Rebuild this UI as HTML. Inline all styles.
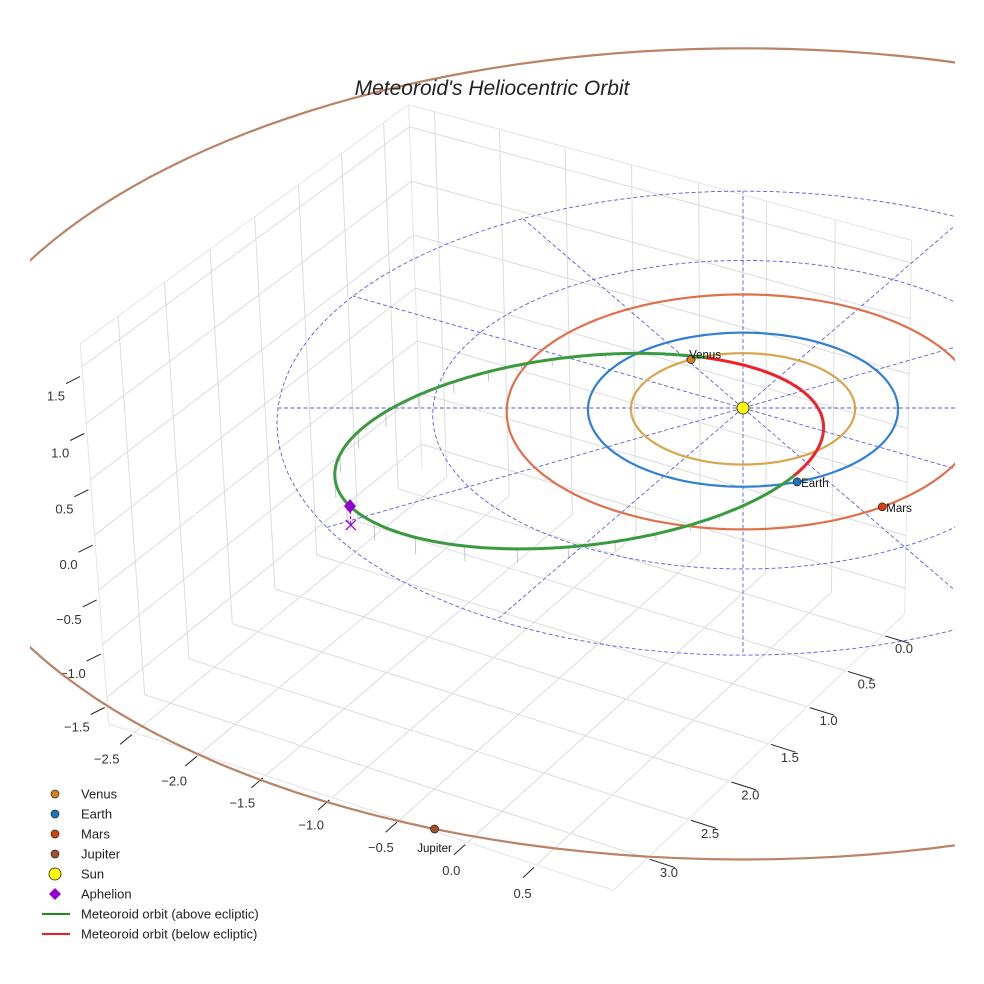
<!DOCTYPE html>
<html><head><meta charset="utf-8">
<style>
html,body{margin:0;padding:0;background:#fff;}
svg{display:block;font-family:"Liberation Sans",sans-serif;}
</style></head>
<body>
<svg id="chart" width="984" height="984" viewBox="0 0 984 984" xmlns="http://www.w3.org/2000/svg">
<defs><clipPath id="clipArea"><rect x="30" y="0" width="925" height="984"/></clipPath></defs>
<rect x="0" y="0" width="984" height="984" fill="#fff"/>
<g id="grid"></g>
<g id="axes"></g>
<g id="plot" clip-path="url(#clipArea)"></g>
<text x="492" y="95" text-anchor="middle" font-size="21" font-style="italic" fill="#222">Meteoroid's Heliocentric Orbit</text>
<g id="legend"></g>
</svg>
<script>
// ---- data ----
const xTicks = [-2.5, -2.0, -1.5, -1.0, -0.5, 0.0, 0.5];
const yTicks = [0.0, 0.5, 1.0, 1.5, 2.0, 2.5, 3.0];
const zTicks = [-1.5, -1.0, -0.5, 0.0, 0.5, 1.0, 1.5];
const xLim = [-2.7, 1.05];
const yLim = [-0.3, 3.4];
const zLim = [-1.75, 1.7];
const planetNames = ["Venus", "Earth", "Mars", "Jupiter"];
const planetRadius = [0.723, 1.0, 1.524, 5.2];
const planetAngleDeg = [212, 40, 25, 80];
const gridRadii = [1, 2, 3];
const gridSpokesDeg = [0, 30, 60, 90, 120, 150, 180, 210, 240, 270, 300, 330];
// meteoroid orbital elements: semi-latus rectum, eccentricity, perihelion longitude, inclination, node
const orbitP = [0.80];
const orbitE = [0.72];
const orbitPeriDeg = [-61];
const orbitIncDeg = [3.5];
const orbitNodeDeg = [40];

// ---- projection ----
const CX = 743, CY = 408, A = 155, B = 77, Z = 108, D = 40;
const c30 = Math.cos(Math.PI/6), s30 = Math.sin(Math.PI/6);
function proj(x, y, z) {
  const hx = x*c30 - y*s30;
  const dv = x*s30 + y*c30;
  const X0 = A*hx, Y0 = B*dv - Z*z;
  const dn = dv*0.87 + z*0.49;
  const f = D/(D - dn);
  return [CX + f*X0, CY + f*Y0];
}
const NS = "http://www.w3.org/2000/svg";
function mk(parent, tag, attrs) {
  const el = document.createElementNS(NS, tag);
  for (const k in attrs) el.setAttribute(k, attrs[k]);
  parent.appendChild(el);
  return el;
}
function pathFrom(pts) {
  return pts.map((p, i) => (i ? "L" : "M") + p[0].toFixed(1) + " " + p[1].toFixed(1)).join(" ");
}
function circlePts(r, z) {
  const pts = [];
  for (let a = 0; a <= 360; a += 2) { const t = a*Math.PI/180; pts.push(proj(r*Math.cos(t), r*Math.sin(t), z)); }
  return pts;
}
const grid = document.getElementById("grid");
const axes = document.getElementById("axes");
const plot = document.getElementById("plot");
const legend = document.getElementById("legend");
const GC = "#dcdcdc";
function seg(parent, p, q, color, w, name) {
  const l = mk(parent, "line", {x1: p[0], y1: p[1], x2: q[0], y2: q[1], stroke: color, "stroke-width": w});
  
  
  return l;
}
// floor grid
xTicks.forEach(v => seg(grid, proj(v, yLim[0], zLim[0]), proj(v, yLim[1], zLim[0]), GC, 1, "floor-grid-x"));
yTicks.forEach(v => seg(grid, proj(xLim[0], v, zLim[0]), proj(xLim[1], v, zLim[0]), GC, 1, "floor-grid-y"));
// left wall (x = xmin)
yTicks.forEach(v => seg(grid, proj(xLim[0], v, zLim[0]), proj(xLim[0], v, zLim[1]), GC, 1, "left-wall-grid-y"));
zTicks.forEach(v => seg(grid, proj(xLim[0], yLim[0], v), proj(xLim[0], yLim[1], v), GC, 1, "left-wall-grid-z"));
// back wall (y = ymin)
xTicks.forEach(v => seg(grid, proj(v, yLim[0], zLim[0]), proj(v, yLim[0], zLim[1]), GC, 1, "back-wall-grid-x"));
zTicks.forEach(v => seg(grid, proj(xLim[0], yLim[0], v), proj(xLim[1], yLim[0], v), GC, 1, "back-wall-grid-z"));
// pane edges
const EC = "#e4e4e4";
[[[xLim[0],yLim[1],zLim[0]],[xLim[0],yLim[1],zLim[1]]],[[xLim[0],yLim[0],zLim[0]],[xLim[0],yLim[0],zLim[1]]],
 [[xLim[1],yLim[0],zLim[0]],[xLim[1],yLim[0],zLim[1]]],[[xLim[0],yLim[1],zLim[1]],[xLim[0],yLim[0],zLim[1]]],
 [[xLim[0],yLim[0],zLim[1]],[xLim[1],yLim[0],zLim[1]]],[[xLim[0],yLim[1],zLim[0]],[xLim[1],yLim[1],zLim[0]]],
 [[xLim[1],yLim[1],zLim[0]],[xLim[1],yLim[0],zLim[0]]]].forEach(e => seg(grid, proj(...e[0]), proj(...e[1]), EC, 1, "pane-edge"));
// ticks
xTicks.forEach(v => {
  seg(axes, proj(v, yLim[1]+0.03, zLim[0]), proj(v, yLim[1]+0.16, zLim[0]), "#222", 1, "x-tick");
  const p = proj(v, yLim[1]+0.35, zLim[0]);
  const t = mk(axes, "text", {x: p[0]+4 + (v+2.5)*4, y: p[1]+5, "text-anchor": "middle", "font-size": 13, fill: "#333"});
  
  
  t.textContent = v.toFixed(1).replace("-", "\u2212");
});
yTicks.forEach(v => {
  seg(axes, proj(xLim[1]+0.02, v, zLim[0]), proj(xLim[1]+0.2, v, zLim[0]), "#222", 1, "y-tick");
  const p = proj(xLim[1]+0.1, v, zLim[0]);
  const t = mk(axes, "text", {x: p[0]+8, y: p[1]+14, "text-anchor": "middle", "font-size": 13, fill: "#333"});
  
  
  t.textContent = v.toFixed(1).replace("-", "\u2212");
});
zTicks.forEach(v => {
  const p = proj(xLim[0], yLim[1], v);
  seg(axes, [p[0]-2, p[1]+10], [p[0]-16, p[1]+17], "#222", 1, "z-tick");
  const t = mk(axes, "text", {x: p[0]-17, y: p[1]+34, "text-anchor": "end", "font-size": 13, fill: "#333"});
  
  
  t.textContent = v.toFixed(1).replace("-", "\u2212");
});
// dashed polar grid on ecliptic
gridRadii.forEach(r => {
  const el = mk(plot, "path", {d: pathFrom(circlePts(r, 0)), fill: "none", stroke: "#5a5ae6", "stroke-width": 0.9, "stroke-dasharray": "4,2.5"});
  
  
});
gridSpokesDeg.forEach(a => {
  const t = a*Math.PI/180, R = gridRadii[gridRadii.length-1];
  const el = mk(plot, "path", {d: pathFrom([proj(0,0,0), proj(R*Math.cos(t), R*Math.sin(t), 0)]), fill: "none", stroke: "#5a5ae6", "stroke-width": 0.9, "stroke-dasharray": "4,2.5"});
  
  
});
// planet orbits
const orbitColors = ["#d9a54a", "#2f7fd4", "#e0704c", "#b98366"];
const dotColors = ["#d9801e", "#1f77b4", "#d5400f", "#a0522d"];
planetNames.forEach((n, i) => {
  const el = mk(plot, "path", {d: pathFrom(circlePts(planetRadius[i], 0)), fill: "none", stroke: orbitColors[i], "stroke-width": 2.2});
  
  
});
// meteoroid orbit
const p0 = orbitP[0], e0 = orbitE[0], wp = orbitPeriDeg[0]*Math.PI/180, inc = orbitIncDeg[0]*Math.PI/180, om = orbitNodeDeg[0]*Math.PI/180;
function orbitPt(deg) {
  const t = deg*Math.PI/180;
  const r = p0/(1 + e0*Math.cos(t - wp));
  return [r*Math.cos(t), r*Math.sin(t), r*Math.sin(inc)*Math.sin(t - om)];
}
// stems
for (let d = 0; d < 360; d += 6) {
  const q = orbitPt(d);
  seg(plot, proj(q[0], q[1], q[2]), proj(q[0], q[1], 0), "#b8b8b8", 0.8, "orbit-stem");
}
let cur = null, segs = [];
for (let d = 0; d <= 360; d += 0.5) {
  const q = orbitPt(d); const above = q[2] >= 0;
  if (!cur || cur.above !== above) { const prev = cur ? cur.pts[cur.pts.length-1] : null; cur = {above, pts: prev ? [prev] : []}; segs.push(cur); }
  cur.pts.push(proj(q[0], q[1], q[2]));
}
segs.forEach(s => {
  const el = mk(plot, "path", {d: pathFrom(s.pts), fill: "none", stroke: s.above ? "#3a9a3e" : "#ee2228", "stroke-width": 3, "stroke-linejoin": "round"});
  
  
});
// aphelion
const aph = orbitPt(orbitPeriDeg[0] + 180);
const pa = proj(aph[0], aph[1], aph[2]), pb = proj(aph[0], aph[1], 0);
seg(plot, pa, pb, "#9400d3", 1.2, "aphelion-drop-line").setAttribute("stroke-dasharray", "3,2");
const dm = mk(plot, "path", {d: `M${pa[0]} ${pa[1]-7}L${pa[0]+6} ${pa[1]}L${pa[0]} ${pa[1]+7}L${pa[0]-6} ${pa[1]}Z`, fill: "#9400d3"});


const xm = mk(plot, "path", {d: `M${pb[0]-5} ${pb[1]-5}L${pb[0]+5} ${pb[1]+5}M${pb[0]+5} ${pb[1]-5}L${pb[0]-5} ${pb[1]+5}`, stroke: "#9400d3", "stroke-width": 1.3});


// sun
const ps = proj(0,0,0);
const sun = mk(plot, "circle", {cx: ps[0], cy: ps[1], r: 6, fill: "#ffff00", stroke: "#222", "stroke-width": 0.8});


// planets
planetNames.forEach((n, i) => {
  const t = planetAngleDeg[i]*Math.PI/180;
  const p = proj(planetRadius[i]*Math.cos(t), planetRadius[i]*Math.sin(t), 0);
  const c = mk(plot, "circle", {cx: p[0], cy: p[1], r: 4, fill: dotColors[i], stroke: "#222", "stroke-width": 0.7});
  
  
  const isJ = n === "Jupiter";
  const isV = n === "Venus";
  const t2 = mk(plot, "text", {x: isJ ? p[0] : p[0] + (isV ? -2 : 4), y: isJ ? p[1] + 23 : (isV ? p[1] - 1 : p[1] + 5), "text-anchor": isJ ? "middle" : "start", "font-size": 11.5, fill: "#111"});
  
  
  t2.textContent = n;
});
// legend
const legLabels = ["Venus", "Earth", "Mars", "Jupiter", "Sun", "Aphelion", "Meteoroid orbit (above ecliptic)", "Meteoroid orbit (below ecliptic)"];
legLabels.forEach((lab, i) => {
  const y = 794 + i*20;
  const g = mk(legend, "g", {});
  
  
  if (i < 4) mk(g, "circle", {cx: 55, cy: y, r: 4, fill: dotColors[i], stroke: "#222", "stroke-width": 0.7});
  else if (i === 4) mk(g, "circle", {cx: 55, cy: y, r: 6, fill: "#ffff00", stroke: "#222", "stroke-width": 0.8});
  else if (i === 5) mk(g, "path", {d: `M55 ${y-6}L61 ${y}L55 ${y+6}L49 ${y}Z`, fill: "#9400d3"});
  else mk(g, "line", {x1: 42, y1: y, x2: 70, y2: y, stroke: i === 6 ? "#1a8c1a" : "#ee1c24", "stroke-width": 2});
  const t = mk(g, "text", {x: 81, y: y + 4.5, "font-size": 13, fill: "#222"});
  t.textContent = lab;
});
</script>
</body></html>
